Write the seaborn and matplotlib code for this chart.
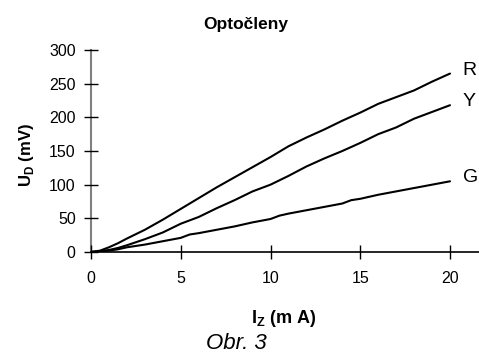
import numpy as np
import pandas as pd
import matplotlib
matplotlib.use("Agg")
import matplotlib.pyplot as plt
import seaborn as sns

# Measured forward voltage U_D vs. current I_Z for three optocoupler LEDs
iz_r = [0, 0.5, 1, 1.5, 2, 3, 4, 5, 6, 7, 8, 9, 10, 11, 12, 13, 14, 15, 16, 17, 18, 19, 20]
ud_r = [0, 2, 7, 13, 20, 33, 48, 64, 80, 96, 111, 126, 141, 157, 170, 182, 195, 207, 220, 230, 240, 253, 265]

iz_y = [0, 0.5, 1, 1.5, 2, 3, 4, 5, 6, 7, 8, 9, 10, 11, 12, 13, 14, 15, 16, 17, 18, 19, 20]
ud_y = [0, 1, 3, 6, 10, 19, 29, 42, 52, 65, 77, 90, 100, 113, 127, 139, 150, 162, 175, 185, 198, 208, 218]

iz_g = [0, 0.5, 1, 1.5, 2, 3, 4, 5, 5.5, 6, 7, 8, 9, 10, 10.5, 11, 12, 13, 14, 14.5, 15, 16, 17, 18, 19, 20]
ud_g = [0, 1, 2, 4, 7, 11, 16, 21, 26, 28, 33, 38, 44, 49, 54, 57, 62, 67, 72, 77, 79, 85, 90, 95, 100, 105]

series_names = ["R", "Y", "G"]
x_ticks = [0, 5, 10, 15, 20]
y_ticks = [0, 50, 100, 150, 200, 250, 300]

df = pd.concat([
    pd.DataFrame({"Iz": iz_r, "Ud": ud_r, "led": "R"}),
    pd.DataFrame({"Iz": iz_y, "Ud": ud_y, "led": "Y"}),
    pd.DataFrame({"Iz": iz_g, "Ud": ud_g, "led": "G"}),
])

sns.set_style("white")
plt.rcParams["font.family"] = ["Liberation Sans", "DejaVu Sans"]
plt.rcParams["mathtext.fontset"] = "custom"
plt.rcParams["mathtext.rm"] = "Liberation Sans"
plt.rcParams["text.color"] = "black"
plt.rcParams["axes.labelcolor"] = "black"

fig = plt.figure(figsize=(4.79, 3.56), dpi=100)
ax = fig.add_axes([91 / 479, 1 - 252 / 356, (479 - 91) / 479, (252 - 50) / 356])

sns.lineplot(data=df, x="Iz", y="Ud", hue="led", hue_order=series_names,
             palette=["black"] * 3, linewidth=1.5, legend=False, ax=ax,
             sort=False, estimator=None)

ax.set_xlim(0, (479 - 91) / 17.95)
ax.set_ylim(0, 300)
ax.set_xticks(x_ticks)
ax.set_yticks(y_ticks)
ax.tick_params(bottom=True, left=True, direction="inout", length=10, width=1,
               labelsize=11.5, colors="black")
ax.tick_params(axis="x", pad=9)
ax.tick_params(axis="y", pad=6)

for s in ["top", "right"]:
    ax.spines[s].set_visible(False)
ax.spines["left"].set_color("#808080")
ax.spines["left"].set_linewidth(1.5)
ax.spines["bottom"].set_color("black")
ax.spines["bottom"].set_linewidth(1.2)
ax.spines["left"].set_zorder(0)

# End labels for each curve
for name, xs, ys in [("R", iz_r, ud_r), ("Y", iz_y, ud_y), ("G", iz_g, ud_g)]:
    ax.text(xs[-1] + 0.7, ys[-1] + 5, name, fontsize=14, va="center", ha="left",
            color="black", clip_on=False)

ax.set_xlabel("")
ax.set_ylabel("")
fig.text(246 / 479, 1 - 29 / 356, "Optočleny", ha="center", va="baseline",
         fontsize=12.5, fontweight="bold", color="black")
fig.text(284 / 479, 1 - 323 / 356, r"I$_\mathregular{Z}$ (m A)", ha="center",
         va="baseline", fontsize=13, fontweight="bold", color="black")
fig.text(27 / 479, 1 - 155 / 356, r"U$_\mathregular{D}$ (mV)", ha="center",
         va="center", fontsize=12, fontweight="bold", rotation=90, color="black")
fig.text(236 / 479, 1 - 349 / 356, "Obr. 3", ha="center", va="baseline",
         fontsize=16, fontstyle="italic", color="black")

fig.savefig("out.png", dpi=100)
